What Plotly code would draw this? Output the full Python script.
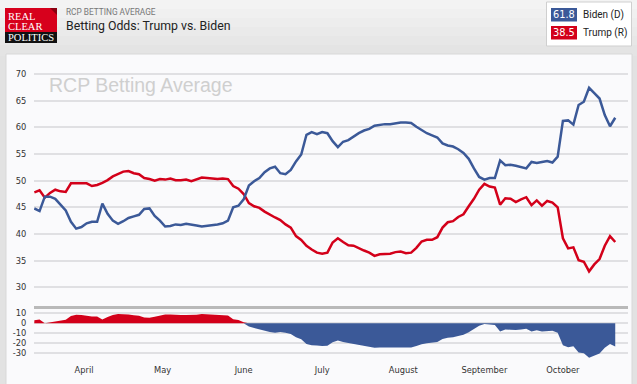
import plotly.graph_objects as go
import pandas as pd

# ---------------- data (one value every 2 days) ----------------
start_date = "2020-03-13"
biden = [44.8, 44.3, 47.0, 47.0, 46.6, 45.6, 44.4, 42.3, 41.0, 41.3,
         42.0, 42.3, 42.3, 45.7, 43.8, 42.5, 41.9, 42.4, 43.0, 43.3,
         43.6, 44.7, 44.8, 43.4, 42.5, 41.4, 41.5, 41.8, 41.7, 41.9,
         41.8, 41.6, 41.4, 41.5, 41.7, 41.8, 42.0, 42.5, 45.0, 45.3,
         46.5, 49.1, 49.9, 50.5, 51.6, 52.3, 52.6, 51.4, 51.2, 52.0,
         53.6, 54.9, 58.6, 59.1, 58.7, 59.1, 58.9, 57.4, 56.3, 57.3,
         57.6, 58.3, 58.9, 59.4, 59.7, 60.3, 60.5, 60.6, 60.6, 60.8,
         60.9, 60.9, 60.8, 60.1, 59.5, 58.9, 58.5, 58.1, 57.0, 56.6,
         56.4, 55.9, 55.2, 54.1, 52.3, 50.7, 50.2, 50.5, 50.5, 53.8,
         52.9, 53.0, 52.8, 52.6, 52.3, 53.5, 53.3, 53.5, 53.7, 53.4,
         54.5, 61.2, 61.3, 60.5, 64.2, 64.8, 67.4, 66.4, 65.4, 62.3,
         60.2, 61.8]
trump = [47.8, 48.2, 46.8, 47.7, 48.3, 48.0, 47.9, 49.5, 49.5, 49.5,
         49.5, 49.0, 49.2, 49.6, 50.1, 50.8, 51.3, 51.7, 51.8, 51.4,
         51.2, 50.5, 50.3, 50.0, 50.3, 50.2, 50.4, 50.1, 50.1, 50.2,
         49.9, 50.2, 50.6, 50.5, 50.4, 50.3, 50.4, 50.3, 49.0, 48.5,
         47.5, 45.8, 45.2, 44.9, 44.2, 43.6, 43.1, 42.6, 41.8, 41.2,
         39.6, 38.9, 37.8, 37.1, 36.5, 36.3, 36.5, 38.4, 39.2, 38.5,
         37.9, 37.8, 37.3, 36.9, 36.5, 35.9, 36.2, 36.2, 36.3, 36.6,
         36.7, 36.4, 36.5, 37.4, 38.6, 38.9, 38.9, 39.4, 41.2, 42.2,
         42.4, 43.2, 43.7, 45.2, 46.6, 48.3, 49.4, 48.9, 48.7, 45.5,
         46.7, 46.6, 46.0, 46.5, 46.9, 45.4, 46.3, 45.3, 46.2, 45.9,
         45.0, 39.2, 37.3, 37.5, 35.1, 34.8, 33.0, 34.3, 35.3, 37.8,
         39.6, 38.5]
month_ticks = ["2020-04-01", "2020-05-01", "2020-06-01", "2020-07-01",
               "2020-08-01", "2020-09-01", "2020-10-01"]
month_labels = ["April", "May", "June", "July", "August", "September", "October"]
top_ticks = [30, 35, 40, 45, 50, 55, 60, 65, 70]
spread_ticks = [10, 0, -10, -20, -30]
spread_labels = ["10", "0", "-10", "-20", "-30"]
biden_label, trump_label = "Biden (D)", "Trump (R)"
biden_last, trump_last = "61.8", "38.5"

dates = pd.date_range(start=start_date, periods=len(biden), freq="2D")
spread = [t - b for t, b in zip(trump, biden)]
spread_pos = [max(s, 0) for s in spread]
spread_neg = [min(s, 0) for s in spread]

BLUE = "#3b5998"
RED = "#d3001a"

# ---------------- geometry helpers (decoration only) ----------------
W, H = 637, 384
L, R, T, B = 34, 9, 55, 20
PW, PH = W - L - R, H - T - B


def px(x):
    return (x - L) / PW


def py(y):
    return (H - B - y) / PH


split = py(306)

fig = go.Figure()
fig.add_trace(go.Scatter(x=dates, y=trump, mode="lines", name=trump_label,
                         line=dict(color=RED, width=2.5), xaxis="x", yaxis="y"))
fig.add_trace(go.Scatter(x=dates, y=biden, mode="lines", name=biden_label,
                         line=dict(color=BLUE, width=2.5), xaxis="x", yaxis="y"))
fig.add_trace(go.Scatter(x=dates, y=spread_pos, mode="lines", fill="tozeroy",
                         fillcolor=RED, line=dict(width=0, color=RED),
                         xaxis="x2", yaxis="y2"))
fig.add_trace(go.Scatter(x=dates, y=spread_neg, mode="lines", fill="tozeroy",
                         fillcolor=BLUE, line=dict(width=0, color=BLUE),
                         xaxis="x2", yaxis="y2"))

xr = ["2020-03-12 21:00", "2020-10-25 21:00"]
tickfont = dict(family="DejaVu Sans", size=8.3, color="#333333")
grid = "#e0e0e3"

shapes = []
# header gradient bands
band_cols = ["#f3f3f3", "#f0f0f0", "#ededed", "#eaeaea", "#e7e7e7", "#e4e4e4"]
for i, c in enumerate(band_cols):
    shapes.append(dict(type="rect", xref="paper", yref="paper", layer="below",
                       x0=px(0), x1=px(W), y0=py(i * 9), y1=py(i * 9 + 9 if i < 5 else 56),
                       fillcolor=c, line=dict(width=0)))
# card
shapes.append(dict(type="rect", xref="paper", yref="paper", layer="below",
                   x0=px(6), x1=px(632), y0=py(54), y1=py(H + 2),
                   fillcolor="#fafafc", line=dict(color="#d8d8d8", width=1)))
# logo
shapes.append(dict(type="rect", xref="paper", yref="paper", layer="above",
                   x0=px(5), x1=px(57), y0=py(8), y1=py(32),
                   fillcolor="#d7001c", line=dict(width=0)))
shapes.append(dict(type="rect", xref="paper", yref="paper", layer="above",
                   x0=px(5), x1=px(57), y0=py(32), y1=py(43),
                   fillcolor="#111111", line=dict(width=0)))
shapes.append(dict(type="path", xref="paper", yref="paper", layer="above",
                   path=f"M {px(50)},{py(8)} L {px(57)},{py(8)} L {px(57)},{py(15)} Z",
                   fillcolor="#8a0010", line=dict(width=0)))
# legend box
shapes.append(dict(type="rect", xref="paper", yref="paper", layer="above",
                   x0=px(546.5), x1=px(631.5), y0=py(2), y1=py(46),
                   fillcolor="#ffffff", line=dict(color="#cfcfcf", width=1)))
shapes.append(dict(type="rect", xref="paper", yref="paper", layer="above",
                   x0=px(551), x1=px(577), y0=py(8), y1=py(21.5),
                   fillcolor=BLUE, line=dict(width=0)))
shapes.append(dict(type="rect", xref="paper", yref="paper", layer="above",
                   x0=px(551), x1=px(577), y0=py(26), y1=py(39.5),
                   fillcolor=RED, line=dict(width=0)))

ann = []


def text(x, y, s, size, color, family="Roboto", xanchor="left"):
    ann.append(dict(xref="paper", yref="paper", x=px(x), y=py(y), text=s,
                    showarrow=False, xanchor=xanchor, yanchor="middle",
                    font=dict(family=family, size=size, color=color)))


text(5.5, 16.5, "REAL", 10.5, "#ffffff", "Liberation Serif")
text(5.5, 26.5, "CLEAR", 10.5, "#ffffff", "Liberation Serif")
text(5.5, 37.5, "POLITICS", 10.5, "#ffffff", "Liberation Serif")
text(63.5, 12, "RCP BETTING AVERAGE", 8.3, "#777777")
text(63.5, 26, "Betting Odds: Trump vs. Biden", 12.3, "#222222")
text(564, 15, biden_last, 9.8, "#ffffff", "DejaVu Sans", "center")
text(564, 33, trump_last, 9.8, "#ffffff", "DejaVu Sans", "center")
text(581, 15, biden_label, 10, "#222222")
text(581, 33, trump_label, 10, "#222222")
text(47, 85, "RCP Betting Average", 19.5, "#cfcfcf", "Liberation Sans")

fig.update_layout(
    width=W, height=H,
    margin=dict(l=L, r=R, t=T, b=B, autoexpand=False),
    paper_bgcolor="#e2e2e2",
    plot_bgcolor="rgba(0,0,0,0)",
    showlegend=False,
    xaxis=dict(domain=[0, 1], anchor="y", range=xr, showticklabels=False,
               showgrid=False, zeroline=False, showline=True, automargin=False,
               linecolor="#b9b9b9", linewidth=2.5),
    xaxis2=dict(domain=[0, 1], anchor="y2", matches="x", range=xr,
                tickvals=month_ticks, ticktext=month_labels, showgrid=False,
                zeroline=False, ticks="", automargin=False, tickfont=tickfont),
    yaxis=dict(domain=[split, 1], anchor="x", range=[26.5, 73.5625],
               tickvals=top_ticks, gridcolor=grid, gridwidth=1.5, automargin=False,
               zeroline=False, ticks="outside", ticklen=5,
               tickcolor="rgba(0,0,0,0)", tickfont=tickfont),
    yaxis2=dict(domain=[0, split], anchor="x2", range=[-40.7, 17.3],
                tickvals=spread_ticks, ticktext=spread_labels, gridcolor=grid,
                gridwidth=1.5, zeroline=False, ticks="outside", ticklen=5,
                automargin=False,
                tickcolor="rgba(0,0,0,0)", tickfont=tickfont),
    shapes=shapes,
    annotations=ann,
)

fig.write_html("out.html", config={"displayModeBar": False},
               post_script="document.body.style.margin='0';document.body.style.overflow='hidden';")
